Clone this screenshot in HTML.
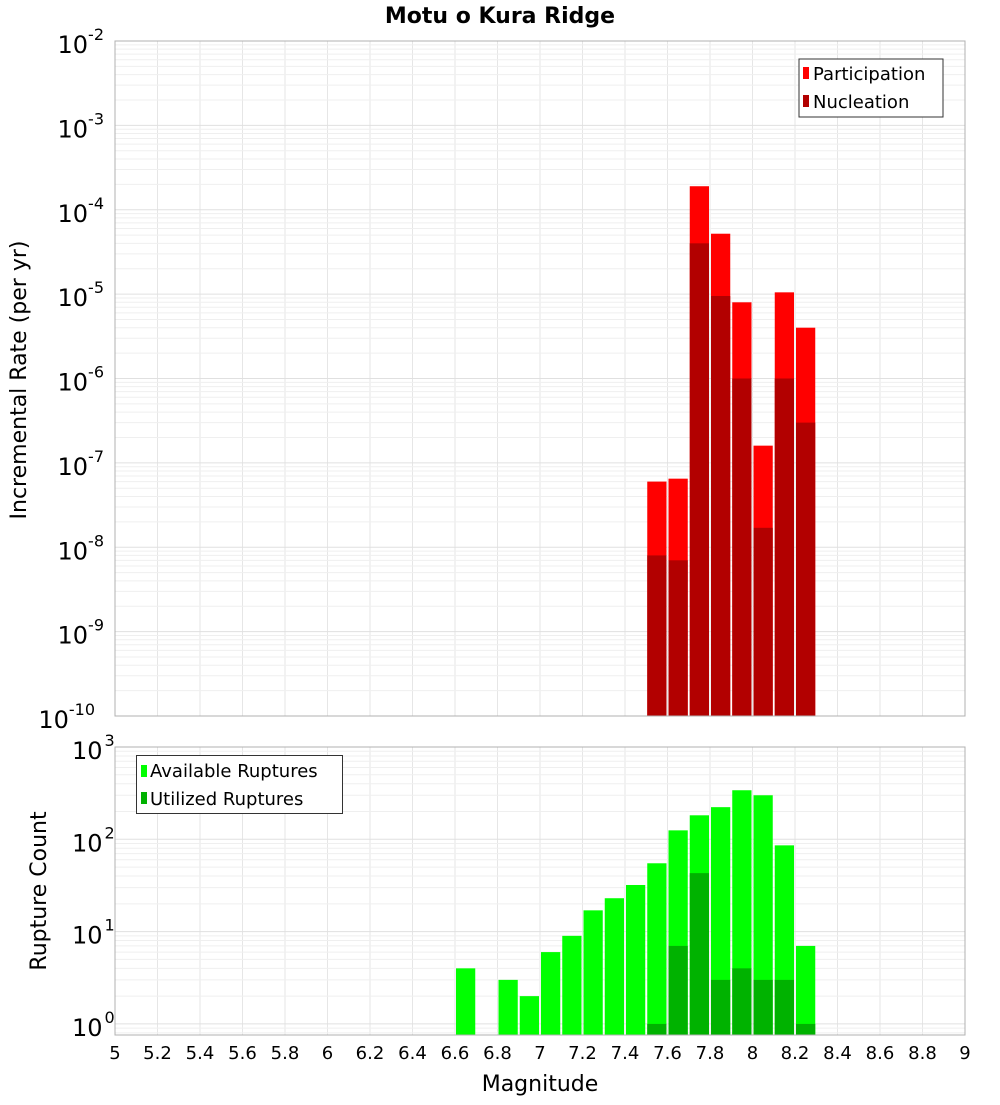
<!DOCTYPE html>
<html><head><meta charset="utf-8"><style>
body{margin:0;background:#fff;width:1000px;height:1100px;overflow:hidden}
svg text{font-family:"DejaVu Sans","Liberation Sans",sans-serif}
</style></head><body>
<svg id="chart" width="1000" height="1100" xmlns="http://www.w3.org/2000/svg"></svg>
<script>
const binCenters = [7.55, 7.65, 7.75, 7.85, 7.95, 8.05, 8.15, 8.25];
const participation = [6e-8, 6.5e-8, 1.9e-4, 5.2e-5, 8e-6, 1.6e-7, 1.05e-5, 4e-6];
const nucleation = [8e-9, 7e-9, 4e-5, 9.5e-6, 1e-6, 1.7e-8, 1e-6, 3e-7];
const countCenters = [6.65, 6.85, 6.95, 7.05, 7.15, 7.25, 7.35, 7.45, 7.55, 7.65, 7.75, 7.85, 7.95, 8.05, 8.15, 8.25];
const available = [4, 3, 2, 6, 9, 17, 23, 32, 55, 125, 182, 223, 340, 300, 86, 7];
const utilized = [0, 0, 0, 0, 0, 0, 0, 0, 1, 7, 43, 3, 4, 3, 3, 1];
const xTicks = [5,5.2,5.4,5.6,5.8,6,6.2,6.4,6.6,6.8,7,7.2,7.4,7.6,7.8,8,8.2,8.4,8.6,8.8,9];
const topExps = [-2,-3,-4,-5,-6,-7,-8,-9,-10];
const botExps = [3,2,1,0];

const NS="http://www.w3.org/2000/svg";
const svg=document.getElementById('chart');
function el(t,a,p){const e=document.createElementNS(NS,t);for(const k in a)e.setAttribute(k,a[k]);(p||svg).appendChild(e);return e;}
const X0=115,X1=965;
const xs=m=>X0+(m-5)/4*(X1-X0);
const T0=41,T1=716, yTop=v=>T0+(-2-Math.log10(v))/8*(T1-T0);
const B0=747,B1=1035, BMIN=-0.12,BMAX=3, yBot=v=>B0+(BMAX-Math.log10(v))/(BMAX-BMIN)*(B1-B0);

function grid(y0,y1,yf,lo,hi){
  const g=el('g',{});
  
  
  xTicks.forEach(t=>el('line',{x1:xs(t),x2:xs(t),y1:y0,y2:y1,stroke:'#e6e6e6'},g));
  for(let e=Math.floor(lo);e<hi;e++)for(let k=1;k<10;k++){const v=k*Math.pow(10,e);const y=yf(v);if(y>=y0&&y<=y1)el('line',{x1:X0,x2:X1,y1:y,y2:y,stroke:k==1?'#e0e0e0':'#efefef'},g);}
}
grid(T0,T1,yTop,-10,-2);
grid(B0,B1,yBot,-1,3);

function bars(cs,vals,yf,ybase,color,name){
  cs.forEach((c,i)=>{if(vals[i]<=0)return;const x=xs(c-0.05)+1,w=xs(c+0.05)-xs(c-0.05)-2,y=Math.max(yf(vals[i]),0);
    const r=el('rect',{x:x,y:y,width:w,height:ybase-y,fill:color});
    
    });
}
bars(binCenters,participation,yTop,T1,'#ff0000','participation-bar');
bars(binCenters,nucleation,yTop,T1,'#b20000','nucleation-bar');
bars(countCenters,available,yBot,B1,'#00ff00','available-bar');
bars(countCenters,utilized,yBot,B1,'#00b200','utilized-bar');

el('rect',{x:X0,y:T0,width:X1-X0,height:T1-T0,fill:'none',stroke:'#b0b0b0'});
el('rect',{x:X0,y:B0,width:X1-X0,height:B1-B0,fill:'none',stroke:'#b0b0b0'});

topExps.forEach(e=>{const y=yTop(Math.pow(10,e));const t=el('text',{x:104,y:y+12,'text-anchor':'end','font-size':24});
  
  
  t.innerHTML='10<tspan dy="-13" font-size="16">'+e+'</tspan>';
  t.setAttribute('transform','translate('+(-String(e).length*9+18)+',0)');});
botExps.forEach(e=>{const y=yBot(Math.pow(10,e));const t=el('text',{x:72,y:y+12,'font-size':24});
  
  
  t.innerHTML='10<tspan dx="2" dy="-13" font-size="16">'+e+'</tspan>';});
xTicks.forEach(t=>{const tx=el('text',{x:xs(t),y:1059,'text-anchor':'middle','font-size':18});
  
  
  tx.textContent=String(t);});
</script>
<svg width="1000" height="1100" style="position:absolute;left:0;top:0" xmlns="http://www.w3.org/2000/svg">
<text x="500" y="23" text-anchor="middle" font-size="22" font-weight="bold" font-family="DejaVu Sans, sans-serif">Motu o Kura Ridge</text>
<text x="540" y="1091" text-anchor="middle" font-size="22" font-family="DejaVu Sans, sans-serif">Magnitude</text>
<text transform="translate(26,380) rotate(-90)" text-anchor="middle" font-size="22" font-family="DejaVu Sans, sans-serif">Incremental Rate (per yr)</text>
<text transform="translate(46,891) rotate(-90)" text-anchor="middle" font-size="22" font-family="DejaVu Sans, sans-serif">Rupture Count</text>
<g font-family="DejaVu Sans, sans-serif" font-size="18">
<rect x="799" y="59" width="144" height="58" fill="#fff" stroke="#333"/>
<rect x="803" y="67" width="6" height="12" fill="#ff0000"/><text x="813" y="80">Participation</text>
<rect x="803" y="95" width="6" height="12" fill="#b20000"/><text x="813" y="108">Nucleation</text>
</g>
<g font-family="DejaVu Sans, sans-serif" font-size="18">
<rect x="136.5" y="755.5" width="206" height="58" fill="#fff" stroke="#333"/>
<rect x="141" y="765" width="6" height="12" fill="#00ff00"/><text x="150" y="777">Available Ruptures</text>
<rect x="141" y="792" width="6" height="12" fill="#00b200"/><text x="150" y="805">Utilized Ruptures</text>
</g>
</svg>
</body></html>
